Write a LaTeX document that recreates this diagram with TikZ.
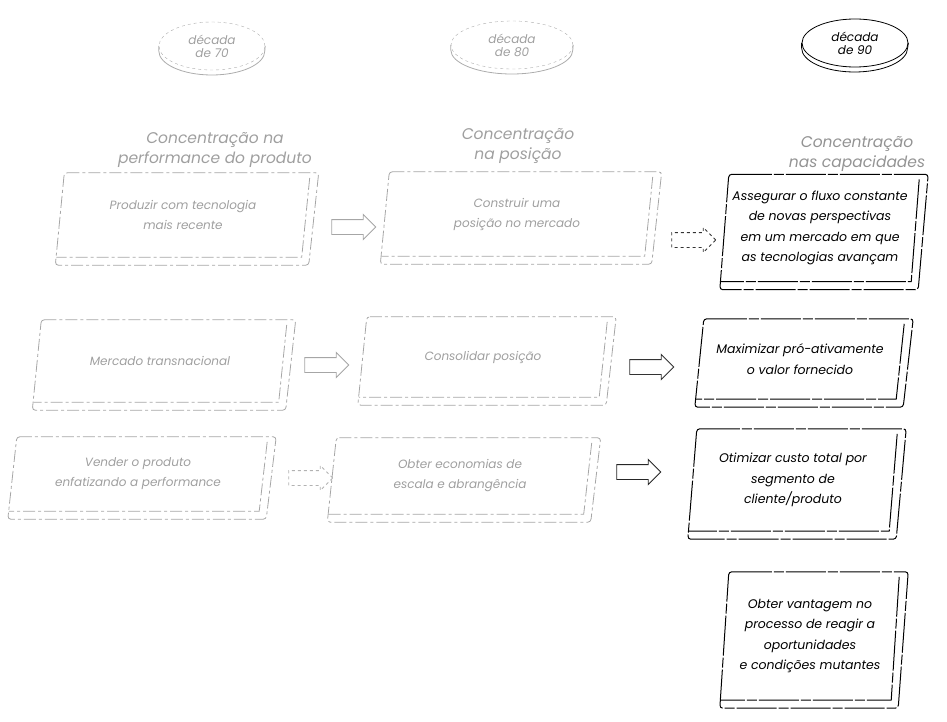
\documentclass[tikz,border=0pt]{standalone}
\usepackage{fontspec}
\setmainfont{Poppins}
\usetikzlibrary{positioning,shapes.geometric,shapes.arrows}

% slab outline round a card node: front face, right side and bottom edge
\newcommand{\slab}[2]{%
    \draw[#2, rounded corners=3pt] ([xshift=4pt]#1.north west) -- ([xshift=13pt]#1.north east)
        -- ([xshift=3pt,yshift=-8pt]#1.south east) -- ([xshift=-5pt,yshift=-8pt]#1.south west) -- cycle;
    \draw[#2] ([xshift=4pt,yshift=-5pt]#1.north east) -- ([xshift=-4pt]#1.south east) -- ([xshift=-4pt]#1.south west);
}

\begin{document}
\begin{tikzpicture} [
                x=1pt, y=-1pt,
                decade/.style={
                    ellipse,
                    minimum width=106pt,
                    minimum height=48pt,
                    inner sep=0pt,
                    align=center,
                    font=\fontsize{12}{13}\selectfont\itshape
                },
                heading/.style={
                    align=center,
                    font=\fontsize{15.5}{20}\selectfont\itshape
                },
                cardnode/.style={
                    rectangle,
                    inner sep=0pt,
                    align=center,
                    font=\fontsize{12}{20}\selectfont\itshape
                },
                oldcard/.style={draw=gray!70, line width=0.8pt, dash pattern=on 12pt off 3pt on 3pt off 3pt},
                newcard/.style={draw=black, line width=1pt, dash pattern=on 40pt off 2pt on 10pt off 2pt},
                fatarrow/.style={
                    single arrow,
                    minimum height=44pt,
                    minimum width=24pt,
                    single arrow head extend=5pt,
                    inner xsep=0pt,
                    inner ysep=7pt,
                    line width=0.9pt
                }
            ]

                \useasboundingbox (0,0) rectangle (947,722);

                \node[decade, draw=gray!65, dashed, text=gray!75]   (d70)   at (212,46)     {década\\de 70};
                \node[decade, draw=gray!65, dashed, text=gray!75, minimum width=122pt]   (d80)   at (512,45)     {década\\de 80};
                \node[decade, draw=black, thick, text=black]        (d90)   at (855,43)     {década\\de 90};

                \foreach \d/\c/\r in {d70/gray!65/53pt, d80/gray!65/61pt, d90/black/53pt}
                    \draw[\c, thick] (\d.west) -- ++(0,-5pt) arc[start angle=180, end angle=360, x radius=\r, y radius=24pt] -- (\d.east);

                \node[heading, text=gray!75]    (h70)   at (215,150)    {Concentração na\\performance do produto};
                \node[heading, text=gray!75]    (h80)   at (518,146)    {Concentração\\na posição};
                \node[heading, text=gray!85]    (h90)   at (857,154)    {Concentração\\nas capacidades};

                \node[cardnode, minimum width=245pt, minimum height=84pt, text=gray!75]    (r1c1)  at (183,215)    {Produzir com tecnologia\\mais recente};
                \node[cardnode, minimum width=263pt, minimum height=84pt, text=gray!75]    (r1c2)  at (517,214)    {Construir uma\\posição no mercado};
                \node[cardnode, minimum width=190pt, minimum height=107pt, font=\fontsize{12.5}{20.5}\selectfont\itshape]   (r1c3)  at (820,228)    {Assegurar o fluxo constante\\de novas perspectivas\\em um mercado em que\\as tecnologias avançam};
                \node[cardnode, minimum width=245pt, minimum height=82pt, text=gray!75]    (r2c1)  at (160,361)    {Mercado transnacional};
                \node[cardnode, minimum width=240pt, minimum height=80pt, text=gray!75]    (r2c2)  at (483,357)    {Consolidar posição};
                \node[cardnode, minimum width=200pt, minimum height=80pt, font=\fontsize{12.5}{20.5}\selectfont\itshape]    (r2c3)  at (800,359)    {Maximizar pró-ativamente\\o valor fornecido};
                \node[cardnode, minimum width=250pt, minimum height=74pt, text=gray!75]    (r3c1)  at (138,474)    {Vender o produto\\enfatizando a performance};
                \node[cardnode, minimum width=255pt, minimum height=76pt, text=gray!75]    (r3c2)  at (460,476)    {Obter economias de\\escala e abrangência};
                \node[cardnode, minimum width=200pt, minimum height=102pt, font=\fontsize{12.5}{20.5}\selectfont\itshape]   (r3c3)  at (793,480)    {Otimizar custo total por\\segmento de\\cliente/produto};
                \node[cardnode, minimum width=170pt, minimum height=128pt, font=\fontsize{12.5}{20.5}\selectfont\itshape]   (r4c3)  at (810,636)    {Obter vantagem no\\processo de reagir a\\oportunidades\\e condições mutantes};

                \foreach \n in {r1c1, r1c2, r2c1, r2c2, r3c1, r3c2}
                    \slab{\n}{oldcard};
                \foreach \n in {r1c3, r2c3, r3c3, r4c3}
                    \slab{\n}{newcard};

                \node[fatarrow, draw=gray!70]               (a1)    at (350,227)    {};
                \node[fatarrow, draw=black!80, dashed]      (a2)    at (690,240)    {};
                \node[fatarrow, draw=gray!70]               (a3)    at (323,365)    {};
                \node[fatarrow, draw=black!80]              (a4)    at (648,367)    {};
                \node[fatarrow, draw=gray!60, dashed]       (a5)    at (307,478)    {};
                \node[fatarrow, draw=black!85]              (a6)    at (635,472)    {};

            \end{tikzpicture}
\end{document}
